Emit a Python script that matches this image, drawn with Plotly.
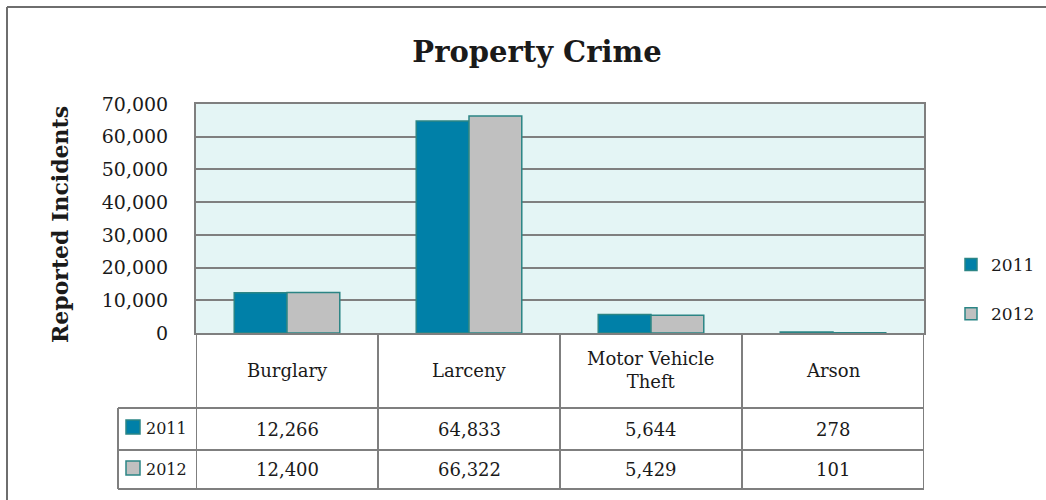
import plotly.graph_objects as go

categories = ["Burglary", "Larceny", "Motor Vehicle<br>Theft", "Arson"]
series_names = ["2011", "2012"]
values_2011 = [12266, 64833, 5644, 278]
values_2012 = [12400, 66322, 5429, 101]
tick_vals = [0, 10000, 20000, 30000, 40000, 50000, 60000, 70000]
tick_text = ["0", "10,000", "20,000", "30,000", "40,000", "50,000", "60,000", "70,000"]

FONT = "DejaVu Serif"
TXT = "#1a1a1a"
C2011 = "#0080A8"
C2012 = "#C0C0C0"
EDGE = "#2B8585"
GRID = "#7F7F7F"

W, H = 1046, 500
L, R, T, B = 196, 924, 104, 333
PW, PH = R - L, B - T

def px_x(px):
    return (px - L) / PW

def px_y(py):
    return (B - py) / PH

fig = go.Figure()
for name, vals, col in [(series_names[0], values_2011, C2011), (series_names[1], values_2012, C2012)]:
    fig.add_trace(go.Bar(
        x=list(range(len(categories))), y=vals, name=name, legendgroup=name,
        marker=dict(color=col, line=dict(color=EDGE, width=1.5)),
    ))

shapes = []
annotations = []
line = dict(color=GRID, width=2)

# outer chart border (top and left edges visible)
border = dict(color="#6E6E6E", width=2)
shapes.append(dict(type="line", xref="paper", yref="paper",
                   x0=px_x(7), x1=px_x(W), y0=px_y(7), y1=px_y(7), line=border))
shapes.append(dict(type="line", xref="paper", yref="paper",
                   x0=px_x(7), x1=px_x(7), y0=px_y(7), y1=px_y(H), line=border))

# table lines
row_y = [408, 450, 489]
for ry in row_y:
    shapes.append(dict(type="line", xref="paper", yref="paper",
                       x0=px_x(118), x1=1, y0=px_y(ry), y1=px_y(ry), line=line))
shapes.append(dict(type="line", xref="paper", yref="paper",
                   x0=px_x(118), x1=px_x(118), y0=px_y(408), y1=px_y(489), line=line))
n = len(categories)
for i in range(n + 1):
    shapes.append(dict(type="line", xref="x", yref="paper",
                       x0=i - 0.5, x1=i - 0.5, y0=0, y1=px_y(489), line=line))

# category headers
for i, c in enumerate(categories):
    annotations.append(dict(x=i, y=px_y(370), xref="x", yref="paper", text=c,
                            showarrow=False, font=dict(family=FONT, size=18, color=TXT),
                            xanchor="center", yanchor="middle"))

# table values
for vals, ry in [(values_2011, 429), (values_2012, 469.5)]:
    for i, v in enumerate(vals):
        annotations.append(dict(x=i, y=px_y(ry), xref="x", yref="paper", text=f"{v:,}",
                                showarrow=False, font=dict(family=FONT, size=18, color=TXT),
                                xanchor="center", yanchor="middle"))

# table row labels with keys
for name, col, ry in [(series_names[0], C2011, 427), (series_names[1], C2012, 468)]:
    shapes.append(dict(type="rect", xref="paper", yref="paper",
                       x0=px_x(126), x1=px_x(140), y0=px_y(ry - 7), y1=px_y(ry + 7),
                       fillcolor=col, line=dict(color=EDGE, width=1.5)))
    annotations.append(dict(x=px_x(144), y=px_y(ry + 1), xref="paper", yref="paper", text=name,
                            showarrow=False, font=dict(family=FONT, size=16, color=TXT),
                            xanchor="left", yanchor="middle"))

# y-axis title
annotations.append(dict(x=px_x(60), y=px_y(225), xref="paper", yref="paper",
                        text="<b>Reported Incidents</b>", textangle=-90, showarrow=False,
                        font=dict(family=FONT, size=22, color=TXT),
                        xanchor="center", yanchor="middle"))

fig.update_layout(
    width=W, height=H,
    margin=dict(l=L, r=W - R, t=T, b=H - B, autoexpand=False),
    paper_bgcolor="white", plot_bgcolor="#E4F5F5",
    barmode="group", bargap=0.42, bargroupgap=0,
    title=dict(text="<b>Property Crime</b>", x=537 / W, xref="container", xanchor="center",
               y=1 - 52 / H, yref="container", yanchor="middle",
               font=dict(family=FONT, size=29, color=TXT)),
    legend=dict(x=px_x(951), y=px_y(247), xanchor="left", yanchor="top",
                xref="paper", yref="paper", font=dict(family=FONT, size=17, color=TXT),
                tracegroupgap=24, traceorder="grouped", itemwidth=30, bgcolor="rgba(0,0,0,0)"),
    showlegend=True,
    shapes=shapes, annotations=annotations,
)

fig.update_xaxes(range=[-0.5, n - 0.5], showticklabels=False, showgrid=False,
                 showline=True, linecolor=GRID, linewidth=2, mirror=True, zeroline=False,
                 fixedrange=True)
fig.update_yaxes(range=[0, 70000], tickvals=tick_vals, ticktext=tick_text,
                 showgrid=True, gridcolor=GRID, gridwidth=2,
                 showline=True, linecolor=GRID, linewidth=2, mirror=True, zeroline=False,
                 tickfont=dict(family=FONT, size=19, color=TXT), ticks="",
                 ticklabelstandoff=22, fixedrange=True)

fig.write_html("out.html", config={"displayModeBar": False},
               post_script="document.body.style.margin='0';")
